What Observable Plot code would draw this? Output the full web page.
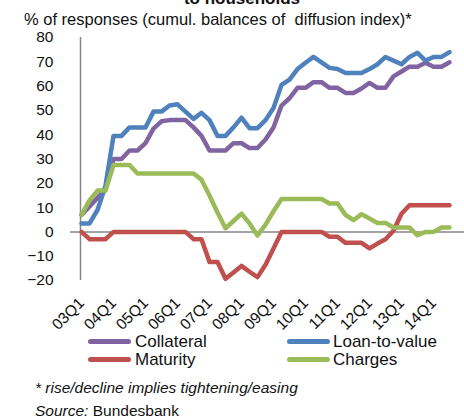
<!DOCTYPE html>
<html><head><meta charset="utf-8">
<script src="https://cdn.jsdelivr.net/npm/d3@7"></script>
<script src="https://cdn.jsdelivr.net/npm/@observablehq/plot@0.6"></script>
<style>
body{margin:0;background:#fff;}
#wrap{position:relative;width:464px;height:418px;overflow:hidden;font-family:"Liberation Sans",Arial,sans-serif;color:#111;}
.abs{position:absolute;white-space:nowrap;line-height:1;}
.sw{position:absolute;height:5px;border-radius:2.5px;}
#chart{position:absolute;left:0;top:0;}
</style></head><body>
<div id="wrap">
  <div class="abs" style="left:0;width:484px;text-align:center;top:-10.4px;font-size:17px;font-weight:bold">to households</div>
  <div class="abs" style="left:24px;top:11px;font-size:16.5px">% of responses (cumul. balances of&nbsp; diffusion index)*</div>
  <div id="chart"></div>
  <div class="sw" style="left:88px;width:43px;top:339.2px;background:#8064A2"></div>
  <div class="abs" style="left:135px;top:333px;font-size:17px">Collateral</div>
  <div class="sw" style="left:287px;width:43px;top:339.2px;background:#4F81BD"></div>
  <div class="abs" style="left:333px;top:333px;font-size:17px">Loan-to-value</div>
  <div class="sw" style="left:88px;width:43px;top:356.8px;background:#C0504D"></div>
  <div class="abs" style="left:135px;top:351px;font-size:17px">Maturity</div>
  <div class="sw" style="left:287px;width:43px;top:356.8px;background:#9BBB59"></div>
  <div class="abs" style="left:333px;top:351px;font-size:17px">Charges</div>
  <div class="abs" style="left:35px;top:380px;font-size:15.5px;font-style:italic">* rise/decline implies tightening/easing</div>
  <div class="abs" style="left:35px;top:403px;font-size:15.5px"><i>Source:</i> Bundesbank</div>
</div>
<script>
const quarters = ["03Q1","03Q2","03Q3","03Q4","04Q1","04Q2","04Q3","04Q4","05Q1","05Q2","05Q3","05Q4",
  "06Q1","06Q2","06Q3","06Q4","07Q1","07Q2","07Q3","07Q4","08Q1","08Q2","08Q3","08Q4",
  "09Q1","09Q2","09Q3","09Q4","10Q1","10Q2","10Q3","10Q4","11Q1","11Q2","11Q3","11Q4",
  "12Q1","12Q2","12Q3","12Q4","13Q1","13Q2","13Q3","13Q4","14Q1","14Q2","14Q3"];
const tickLabels = ["03Q1","04Q1","05Q1","06Q1","07Q1","08Q1","09Q1","10Q1","11Q1","12Q1","13Q1","14Q1"];
const yTicks = [-20,-10,0,10,20,30,40,50,60,70,80];

const collateral = [7,10.5,14,17.5,30,30,33.5,33.5,36.5,42.5,45.5,46,46,46,43,39.5,33.5,33.5,33.5,36.5,36.5,34.5,34.5,38,
  43,52,55,59.3,59.3,61.6,61.6,59.3,59.3,57.2,57.2,59,61.3,59.3,59.3,64,66,68,68,69.6,68,68,69.8];
const loanToValue = [3.5,3.5,9,19,39.5,39.5,43,43,43,49.5,49.5,52,52.5,49.5,46.5,49,46,39.5,39.5,43,47,42.7,42.7,46,
  51,60.5,62.7,67,69.6,72,69.8,67.5,67,65.4,65.4,65.4,67,69,72,70.5,69,72,73.7,70.5,72,72,74];
const maturity = [0,-3,-3,-3,0,0,0,0,0,0,0,0,0,0,-3,-3,-12.4,-12.4,-19.3,-16.7,-14,-16.4,-18.6,-13.5,
  -6.8,0,0,0,0,0,0,-2,-2,-4.5,-4.5,-4.5,-6.8,-4.8,-3,0.5,7.5,11,11,11,11,11,11];
const charges = [7,13,17,17,27.5,27.5,27.5,24,24,24,24,24,24,24,24,21.5,15,8,1.5,4.5,7.5,3.5,-1.5,3,
  8.5,13.5,13.5,13.5,13.5,13.5,13.5,11.7,11.7,7,4.8,7.3,5.5,3.7,3.7,1.8,1.8,1.8,-1.4,0,0,1.8,1.8];

const seriesNames = ["Collateral","Loan-to-value","Maturity","Charges"];
const seriesColors = ["#8064A2","#4F81BD","#C0504D","#9BBB59"];
const seriesValues = [collateral, loanToValue, maturity, charges];

const lineMarks = seriesValues.map((vals, k) =>
  Plot.line(vals.map((v, i) => ({q: quarters[i], v, s: seriesNames[k]})),
    {x: "q", y: "v", stroke: seriesColors[k], strokeWidth: 4.5, strokeLinejoin: "round", strokeLinecap: "round"}));

const chart = Plot.plot({
  width: 464, height: 330,
  marginLeft: 71, marginRight: 5, marginTop: 37, marginBottom: 50,
  style: {fontFamily: "'Liberation Sans', Arial, sans-serif", fontSize: "15.5px", color: "#111", background: "transparent", overflow: "visible"},
  x: {type: "point", domain: quarters, padding: 0},
  y: {domain: [-20, 80]},
  marks: [
    Plot.ruleY([0], {stroke: "#868686", strokeWidth: 1.5, insetRight: -5, insetLeft: -1}),
    Plot.ruleX([quarters[0]], {y1: -20, y2: 80, stroke: "#868686", strokeWidth: 1.5, dx: -1}),
    Plot.axisY({ticks: yTicks, tickSize: 0, tickPadding: 18, label: null, fontSize: 15.5}),
    Plot.axisX({ticks: tickLabels, tickSize: 0, tickPadding: 20, tickRotate: -45, label: null, fontSize: 15.5}),
    ...lineMarks
  ]
});
document.getElementById("chart").appendChild(chart);
</script>
</body></html>
